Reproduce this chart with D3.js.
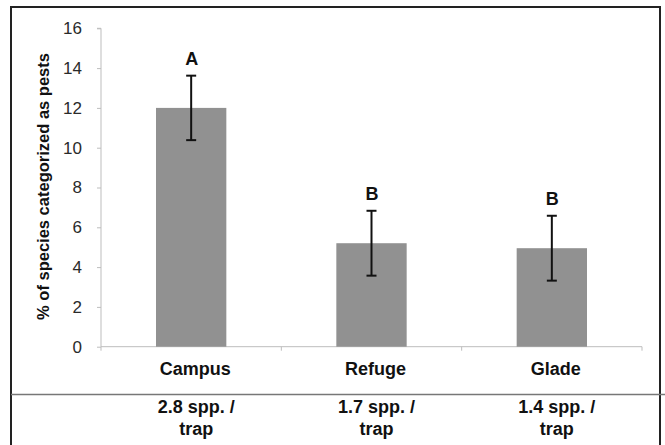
<!DOCTYPE html>
<html><head><meta charset="utf-8">
<script src="https://cdn.jsdelivr.net/npm/d3@7"></script>
<style>html,body{margin:0;padding:0;background:#fff;}svg{display:block;}</style>
</head><body>
<svg id="chart" width="665" height="445"></svg>
<script>
const categories = ["Campus", "Refuge", "Glade"];
const values = [12.0, 5.2, 4.95];
const errors = [1.62, 1.63, 1.63];
const letters = ["A", "B", "B"];
const sppLine1 = ["2.8 spp. /", "1.7 spp. /", "1.4 spp. /"];
const sppLine2 = ["trap", "trap", "trap"];
const yTicks = [0, 2, 4, 6, 8, 10, 12, 14, 16];
const yTitle = "% of species categorized as pests";

const svg = d3.select("#chart");
const font = "'Liberation Sans', Arial, sans-serif";
const m = {left: 101, right: 642, top: 28.3, bottom: 346.7};

const x = d3.scaleBand().domain(categories).range([m.left, m.right]).paddingInner(0.61).paddingOuter(0.305);
const xb = d3.scaleBand().domain(categories).range([m.left, m.right]);
const y = d3.scaleLinear().domain([0, 16]).range([m.bottom, m.top]);

// outer frame
svg.append("rect").attr("x", 11).attr("y", 7).attr("width", 649).attr("height", 460)
  .attr("fill", "none").attr("stroke", "#222").attr("stroke-width", 2);
// separator line
svg.append("line").attr("x1", 11).attr("x2", 665).attr("y1", 394.5).attr("y2", 394.5)
  .attr("stroke", "#777").attr("stroke-width", 1.5);

// y axis
const yAxis = svg.append("g").attr("transform", `translate(${m.left},0)`)
  .call(d3.axisLeft(y).tickValues(yTicks).tickSize(4).tickPadding(15).tickFormat(d3.format("d")));
yAxis.select(".domain").attr("stroke", "#bdbdbd").attr("d", `M-4,${m.top}H0V${m.bottom}`);
yAxis.selectAll(".tick line").attr("stroke", "#bdbdbd");
yAxis.selectAll("text").attr("font-family", font).attr("font-size", 17).attr("fill", "#2a2a2a");

// x axis
const xAxis = svg.append("g").attr("transform", `translate(0,${m.bottom})`);
xAxis.append("line").attr("x1", m.left).attr("x2", m.right).attr("y1", 0).attr("y2", 0).attr("stroke", "#bdbdbd");
xAxis.selectAll("line.tk").data(categories.concat(["end"])).join("line").attr("class", "tk")
  .attr("x1", (d, i) => i < categories.length ? xb(d) : m.right)
  .attr("x2", (d, i) => i < categories.length ? xb(d) : m.right)
  .attr("y1", 0).attr("y2", 4).attr("stroke", "#bdbdbd");

// bars
svg.selectAll("rect.bar").data(values).join("rect").attr("class", "bar")
  .attr("x", (d, i) => x(categories[i])).attr("width", x.bandwidth())
  .attr("y", d => y(d)).attr("height", d => y(0) - y(d)).attr("fill", "#919191");

// error bars
const eb = svg.selectAll("g.err").data(values).join("g").attr("class", "err");
const cx = i => x(categories[i]) + x.bandwidth() / 2;
eb.append("line").attr("x1", (d, i) => cx(i)).attr("x2", (d, i) => cx(i))
  .attr("y1", (d, i) => y(d + errors[i])).attr("y2", (d, i) => y(d - errors[i]))
  .attr("stroke", "#111").attr("stroke-width", 2);
[1, -1].forEach(s => {
  eb.append("line").attr("x1", (d, i) => cx(i) - 5).attr("x2", (d, i) => cx(i) + 5)
    .attr("y1", (d, i) => y(d + s * errors[i])).attr("y2", (d, i) => y(d + s * errors[i]))
    .attr("stroke", "#111").attr("stroke-width", 2);
});

// letters
svg.selectAll("text.let").data(letters).join("text").attr("class", "let")
  .attr("x", (d, i) => cx(i) + 0.5).attr("y", (d, i) => y(values[i] + errors[i]) - 11)
  .attr("text-anchor", "middle").attr("font-family", font).attr("font-weight", "bold")
  .attr("font-size", 18).attr("fill", "#111").text(d => d);

// category labels
svg.selectAll("text.cat").data(categories).join("text").attr("class", "cat")
  .attr("x", d => xb(d) + xb.bandwidth() / 2 + 4).attr("y", 375)
  .attr("text-anchor", "middle").attr("font-family", font).attr("font-weight", "bold")
  .attr("font-size", 18).attr("fill", "#111").text(d => d);

// spp labels
svg.selectAll("text.s1").data(sppLine1).join("text").attr("class", "s1")
  .attr("x", (d, i) => xb(categories[i]) + xb.bandwidth() / 2 + 5).attr("y", 413)
  .attr("text-anchor", "middle").attr("font-family", font).attr("font-weight", "bold")
  .attr("font-size", 18).attr("fill", "#111").text(d => d);
svg.selectAll("text.s2").data(sppLine2).join("text").attr("class", "s2")
  .attr("x", (d, i) => xb(categories[i]) + xb.bandwidth() / 2 + 5).attr("y", 435)
  .attr("text-anchor", "middle").attr("font-family", font).attr("font-weight", "bold")
  .attr("font-size", 18).attr("fill", "#111").text(d => d);

// y title
svg.append("text").attr("transform", `translate(49,${(50 + 323) / 2}) rotate(-90)`)
  .attr("text-anchor", "middle").attr("font-family", font).attr("font-weight", "bold")
  .attr("font-size", 16.5).attr("fill", "#111").text(yTitle);
</script>
</body></html>
